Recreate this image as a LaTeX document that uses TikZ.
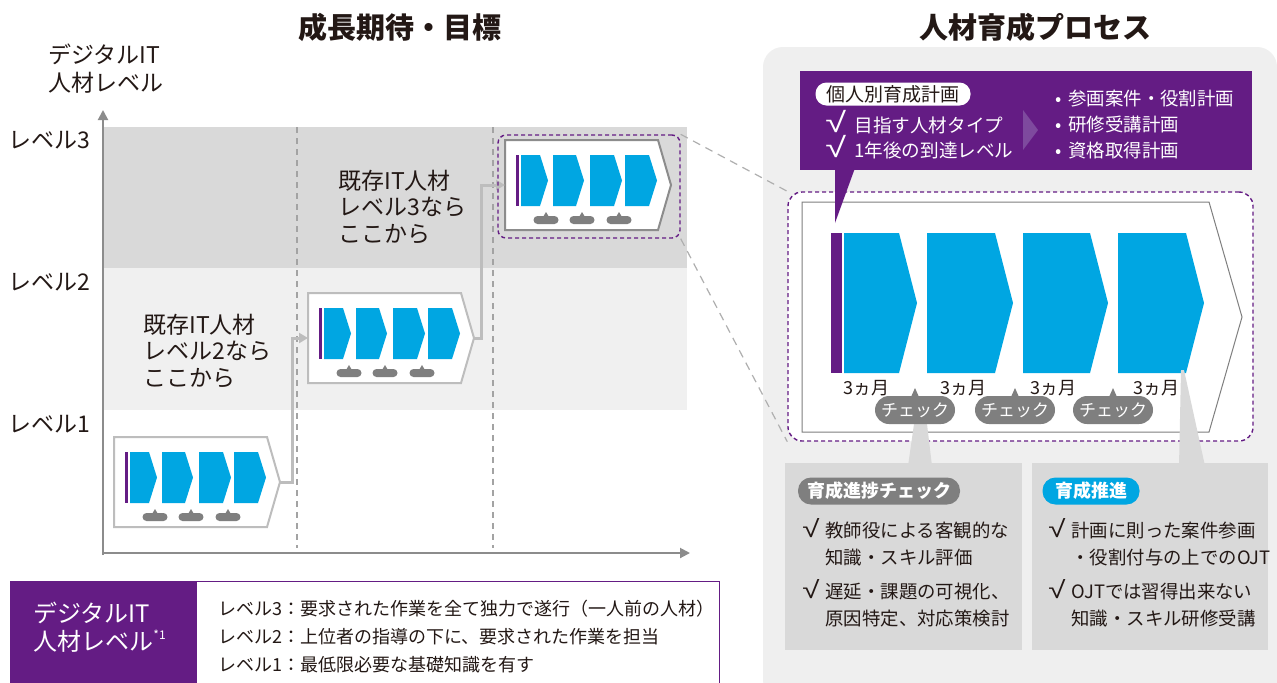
\documentclass[tikz,border=0pt]{standalone}
\usepackage{fontspec}
\usepackage{graphicx}
\setmainfont{Noto Sans CJK JP}
\newfontfamily\ckf{Liberation Sans}
\usetikzlibrary{arrows.meta}
\definecolor{pur}{HTML}{641C84}
\definecolor{pur2}{HTML}{7E4A9E}
\definecolor{blu}{HTML}{00A6E2}
\definecolor{pill}{HTML}{7F7F7F}
\definecolor{bandA}{HTML}{D9D9D9}
\definecolor{bandB}{HTML}{F0F0F0}
\definecolor{panel}{HTML}{EFEFEF}
\definecolor{txt}{HTML}{231815}
\definecolor{arr}{HTML}{BDBDBD}
\definecolor{axis}{HTML}{8C8C8C}
\newcommand\fsz[2]{\fontsize{#1}{#2}\selectfont\lineskiplimit=-30pt\relax}
\newcommand\ckW{\makebox[14.5pt][l]{\scalebox{1.35}[1]{\ckf\fontsize{14}{12}\selectfont √}}}
\newcommand\ckB{\makebox[11.5pt][l]{\scalebox{1.3}[1]{\ckf\fontsize{12}{12}\selectfont √}}}
\newcommand\blt{\makebox[10pt][c]{•}}
\newcommand\procbox[4]{%
\begin{scope}[shift={(#1,#2)}]
 \draw[#4, line width=1pt, fill=white] (0,0) -- (153,0) -- (166,45) -- (153,90) -- (0,90) -- cycle;
 \coordinate (#3tip) at (166,45);
 \coordinate (#3in) at (0,45);
 \fill[pur] (11,15) rectangle (14,66);
 \foreach \l/\t in {16/43,48/79,85/117,120/152}{
   \fill[blu] (\l,15) -- (\t-8,15) -- (\t,40.5) -- (\t-8,66) -- (\l,66) -- cycle;}
 \foreach \c in {41,77,114}{
   \fill[pill, rounded corners=2pt] (\c-12.5,76) rectangle (\c+12.5,84);
   \fill[pill] (\c-3,77) -- (\c,72) -- (\c+3,77) -- cycle;}
\end{scope}}
\begin{document}
\begin{tikzpicture}[x=0.5pt,y=-0.5pt,
 t/.style={inner sep=0,text=txt},
 conn/.style={draw=arr,line width=1.5pt,-{Triangle[length=4.5pt,width=5pt]}},
 axisl/.style={draw=axis,line width=1pt,-{Triangle[length=5pt,width=5pt]}},
 vdash/.style={draw=axis!80,line width=0.6pt,dash pattern=on 3pt off 2.5pt},
 pdash/.style={draw=pur,line width=0.7pt,dash pattern=on 2pt off 1.5pt},
 gdash/.style={draw=axis!70,line width=0.6pt,dash pattern=on 4pt off 3pt},
 chk/.style={fill=pill,text=white,rounded corners=7pt,minimum width=40pt,minimum height=14pt,inner sep=0,font=\fsz{8.5}{10}},
]
\useasboundingbox (0,0) rectangle (1277,682);
\clip (0,0) rectangle (1277,682);
\fill[white] (0,0) rectangle (1277,682);

% ---------------- left chart ----------------
\node[t, font=\bfseries\fsz{14.5}{17}] (title1) at (400,27) {成長期待・目標};
\fill[bandA] (104,127) rectangle (687,268);
\fill[bandB] (104,268) rectangle (687,410);
\draw[vdash] (297,127) -- (297,548);
\draw[vdash] (493,127) -- (493,548);
\draw[axisl] (103,555) -- (103,110);
\draw[axisl] (102,553) -- (690,553);

\node[t, font=\fsz{11.5}{14}, anchor=west, align=left] (ylab) at (48,69) {デジタルIT\\人材レベル};
\node[t, font=\fsz{11.5}{14}, anchor=west] (lv3) at (8,140) {レベル3};
\node[t, font=\fsz{11.5}{14}, anchor=west] (lv2) at (8,282) {レベル2};
\node[t, font=\fsz{11.5}{14}, anchor=west] (lv1) at (8,424) {レベル1};

\node[t, font=\fsz{11.5}{13.25}, anchor=west, align=left] (txt2) at (143,351) {既存IT人材\\レベル2なら\\ここから};
\node[t, font=\fsz{11.5}{13.25}, anchor=west, align=left] (txt3) at (338,207) {既存IT人材\\レベル3なら\\ここから};

\procbox{114}{437}{bA}{arr}
\procbox{308}{293}{bB}{arr}
\procbox{505}{140}{bC}{axis}

\draw[conn] (bAtip) -- ++(12,0) |- (bBin);
\draw[conn] (bBtip) -- ++(7,0) |- (bCin);

\node[pdash, rounded corners=4pt, minimum width=91pt, minimum height=51.5pt, inner sep=0] (dsel) at (589,186.5) {};

% ---------------- right panel ----------------
\fill[panel, rounded corners=10pt] (763,47) rectangle (1277,700);
\node[t, font=\bfseries\fsz{14.5}{17}] (title2) at (1035,27) {人材育成プロセス};

\fill[pur] (800,71) rectangle (1252,170);
\node[fill=white, rounded corners=5.5pt, minimum width=77.5pt, minimum height=11.5pt, inner sep=0, text=txt, font=\fsz{9.5}{11}] (plan) at (893,94) {個人別育成計画};
\node[t, text=white, font=\fsz{9.3}{12.5}, anchor=base west, align=left] (goals) at (825,157) {\ckW 目指す人材タイプ\\\ckW 1年後の到達レベル};
\fill[pur2] (1023,110) -- (1038,130) -- (1023,150) -- cycle;
\node[t, text=white, font=\fsz{9.2}{13}, anchor=base west, align=left] (plans) at (1048,157) {\blt 参画案件・役割計画\\\blt 研修受講計画\\\blt 資格取得計画};

\node[pdash, fill=white, rounded corners=7pt, minimum width=232.5pt, minimum height=124.5pt, inner sep=0] (dbig) at (1020.5,316.5) {};
\draw[gdash] (dsel.north east) -- (dbig.north west);
\draw[gdash] (dsel.south east) -- (dbig.south west);

\draw[draw=pill, line width=0.5pt] (802,202) -- (1209,202) -- (1242,317) -- (1209,432) -- (802,432) -- cycle;
\fill[pur] (831,233) rectangle (842,373);
\foreach \l/\b/\t in {844/899/917,927/995/1013,1023/1090/1108,1118/1186/1204}{
  \fill[blu] (\l,233) -- (\b,233) -- (\t,303) -- (\b,373) -- (\l,373) -- cycle;}
\fill[pur] (835,168) -- (855,168) -- (835,223) -- cycle;

\node[t, font=\fsz{9}{11}] (m1) at (866,388) {3ヵ月};
\node[t, font=\fsz{9}{11}] (m2) at (963,388) {3ヵ月};
\node[t, font=\fsz{9}{11}] (m3) at (1053,388) {3ヵ月};
\node[t, font=\fsz{9}{11}] (m4) at (1156,388) {3ヵ月};

% wedges to the lower boxes
\fill[bandA] (914,424) -- (927,424) -- (932,466) -- (908,466) -- cycle;
\fill[bandA] (1181,370) -- (1184,370) -- (1205,466) -- (1179,466) -- cycle;

\foreach \c/\n in {915/ch1,1015/ch2,1113/ch3}{
  \fill[pill] (\c-4,397) -- (\c,388) -- (\c+4,397) -- cycle;
  \node[chk] (\n) at (\c,410) {チェック};}

\node[fill=bandA, minimum width=118.5pt, minimum height=93.5pt, inner sep=0, anchor=north west] (boxA) at (785,463) {};
\node[fill=bandA, minimum width=118pt, minimum height=93.5pt, inner sep=0, anchor=north west] (boxB) at (1032,463) {};
\node[fill=pill, text=white, rounded corners=6.5pt, minimum width=81pt, minimum height=13.5pt, inner sep=0, font=\bfseries\fsz{9}{11}] (pA) at (879,491) {育成進捗チェック};
\node[fill=blu, text=white, rounded corners=6.5pt, minimum width=48.5pt, minimum height=13.5pt, inner sep=0, font=\bfseries\fsz{9}{11}] (pB) at (1091,491) {育成推進};

\node[t, font=\fsz{9.2}{13.5}, anchor=base west, align=left] (a1) at (802,564) {\ckB 教師役による客観的な\\\hspace*{11.5pt}知識・スキル評価};
\node[t, font=\fsz{9.2}{13.5}, anchor=base west, align=left] (a2) at (802,625) {\ckB 遅延・課題の可視化、\\\hspace*{11.5pt}原因特定、対応策検討};
\node[t, font=\fsz{9.2}{13.5}, anchor=base west, align=left] (b1) at (1048,564) {\ckB 計画に則った案件参画\\\hspace*{11.5pt}・役割付与の上でのOJT};
\node[t, font=\fsz{9.2}{13.5}, anchor=base west, align=left] (b2) at (1048,625) {\ckB OJTでは習得出来ない\\\hspace*{11.5pt}知識・スキル研修受講};

% ---------------- legend ----------------
\fill[white] (197,581) rectangle (720,690);
\draw[pur, line width=0.6pt] (197,581.5) -- (719.5,581.5) -- (719.5,690);
\fill[pur] (10,581) rectangle (197,690);
\node[t, text=white, anchor=west, align=left, font=\fsz{12}{14}] (lgT) at (33,627) {デジタルIT\\人材レベル\raisebox{0.45em}{\fsz{6}{6}*1}};
\node[t, anchor=base west, align=left, font=\fsz{9}{14}] (lgL) at (218,671) {レベル3：要求された作業を全て独力で遂行（一人前の人材）\\レベル2：上位者の指導の下に、要求された作業を担当\\レベル1：最低限必要な基礎知識を有す};
\end{tikzpicture}
\end{document}
